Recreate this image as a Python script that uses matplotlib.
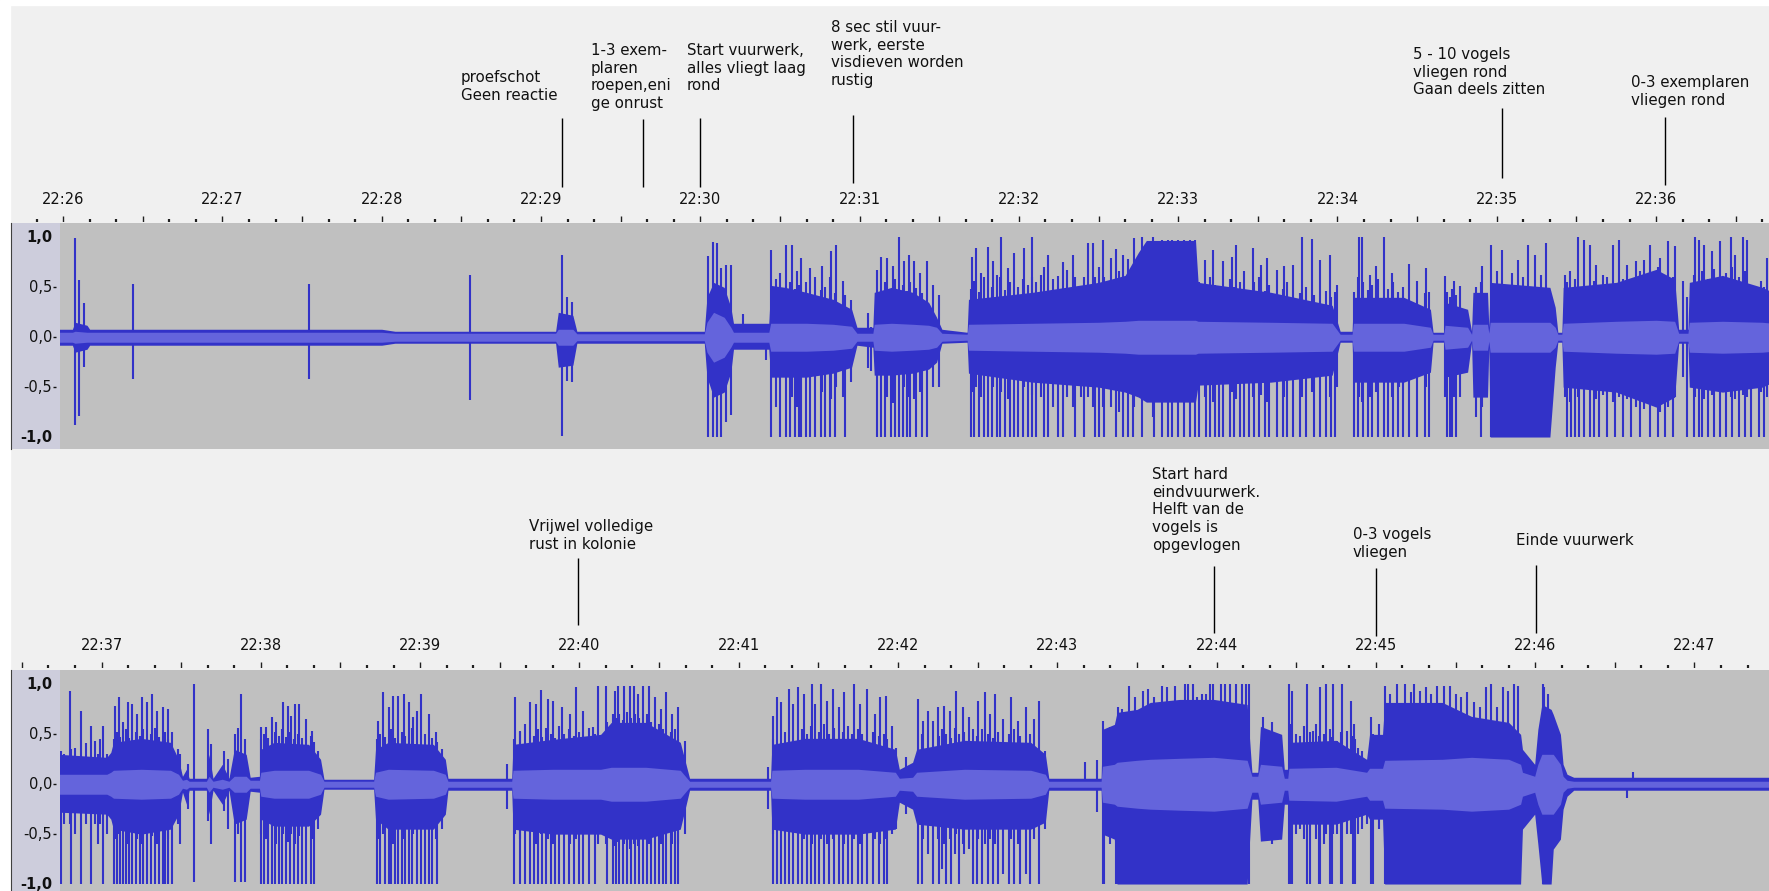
import numpy as np
import matplotlib.pyplot as plt
from matplotlib.patches import Rectangle

W, H = 1769, 891
plt.rcParams['font.family'] = ['DejaVu Sans']

BLUE = '#3232c8'
RMS_BLUE = '#6464dc'
WAVE_BG = '#c0c0c0'
PANEL_BG = '#f0f0f0'
STRIP_BG = '#cdcddc'
INK = '#111111'

# ---------------- data (time in seconds after 22:26:00) ----------------
top_minutes = ['22:26', '22:27', '22:28', '22:29', '22:30', '22:31',
               '22:32', '22:33', '22:34', '22:35', '22:36']
bottom_minutes = ['22:37', '22:38', '22:39', '22:40', '22:41', '22:42',
                  '22:43', '22:44', '22:45', '22:46', '22:47']

# envelope: (t, solid top, solid bottom, rms half width)
top_env = [
    (-2, 0.08, -0.08, 0.05), (3.5, 0.08, -0.08, 0.05), (4.5, 0.15, -0.15, 0.06),
    (9, 0.12, -0.12, 0.05), (10, 0.08, -0.08, 0.05), (120, 0.08, -0.08, 0.05),
    (125, 0.06, -0.06, 0.04), (185.5, 0.06, -0.06, 0.04), (186.5, 0.25, -0.3, 0.08),
    (192, 0.22, -0.28, 0.08), (193.5, 0.06, -0.06, 0.035), (241.5, 0.06, -0.06, 0.035),
    (242.5, 0.4, -0.4, 0.15), (245, 0.55, -0.6, 0.25), (249, 0.5, -0.55, 0.2),
    (251.5, 0.3, -0.35, 0.1), (252.5, 0.14, -0.12, 0.05), (265.8, 0.14, -0.12, 0.05),
    (266.5, 0.52, -0.4, 0.14), (272, 0.5, -0.4, 0.14), (280, 0.45, -0.4, 0.14),
    (290, 0.38, -0.36, 0.13), (297, 0.28, -0.3, 0.11),
    (299, 0.1, -0.08, 0.04), (305, 0.1, -0.1, 0.04), (305.5, 0.45, -0.38, 0.13),
    (312, 0.5, -0.38, 0.14), (320, 0.45, -0.36, 0.13), (326, 0.35, -0.32, 0.12),
    (329, 0.2, -0.25, 0.1), (331, 0.08, -0.06, 0.04), (340.5, 0.05, -0.05, 0.03),
    (341, 0.38, -0.36, 0.13), (365, 0.45, -0.45, 0.14), (390, 0.55, -0.5, 0.15),
    (400, 0.62, -0.55, 0.16), (405, 0.85, -0.6, 0.17), (408, 0.97, -0.65, 0.17),
    (426.5, 0.97, -0.65, 0.17), (427.5, 0.55, -0.48, 0.16), (455, 0.45, -0.45, 0.15),
    (478, 0.32, -0.38, 0.14), (481, 0.06, -0.05, 0.03), (485.5, 0.06, -0.05, 0.03),
    (486, 0.4, -0.45, 0.14), (505, 0.4, -0.45, 0.14), (515, 0.28, -0.35, 0.1),
    (516, 0.05, -0.05, 0.03), (520, 0.05, -0.05, 0.03), (520.5, 0.35, -0.4, 0.12),
    (529, 0.28, -0.35, 0.1), (530.5, 0.06, -0.05, 0.03), (531, 0.45, -0.6, 0.13),
    (536.5, 0.45, -0.6, 0.13), (537, 0.1, -0.1, 0.04), (537.5, 0.55, -1.0, 0.15),
    (560, 0.5, -1.0, 0.15), (562, 0.3, -0.3, 0.1), (563, 0.05, -0.05, 0.03),
    (564.5, 0.05, -0.05, 0.03), (565, 0.5, -0.5, 0.14), (585, 0.55, -0.55, 0.16),
    (600, 0.68, -0.7, 0.17), (607, 0.58, -0.6, 0.16), (608.5, 0.08, -0.06, 0.04),
    (612, 0.08, -0.06, 0.04), (612.5, 0.55, -0.5, 0.15), (625, 0.62, -0.55, 0.16),
    (640, 0.5, -0.5, 0.15), (644, 0.45, -0.45, 0.14),
]

# single peaks: (t, top, bottom)
top_spikes = [
    (4.3, 0.99, -0.88), (6.1, 0.57, -0.79), (8.0, 0.34, -0.3),
    (26.4, 0.53, -0.42), (92.8, 0.53, -0.42), (153.2, 0.62, -0.63),
    (188.0, 0.82, -0.99), (189.8, 0.4, -0.44), (191.5, 0.35, -0.45),
    (243.0, 0.81, -1.0), (244.9, 0.95, -1.0), (246.3, 0.94, -1.0),
    (247.8, 0.69, -1.0), (249.5, 0.72, -0.85), (251.4, 0.72, -0.78),
    (256.1, 0.23, -0.1), (264.8, 0.1, -0.23),
    (266.8, 0.87, -1.0), (268.7, 0.58, -0.7), (270.1, 0.64, -1.0), (272.3, 0.92, -1.0),
    (273.7, 0.55, -1.0), (274.4, 0.92, -0.6), (275.5, 0.48, -1.0), (276.6, 0.66, -0.7),
    (277.3, 0.52, -1.0), (278.0, 0.79, -1.0), (279.8, 0.55, -1.0), (281.2, 0.69, -1.0),
    (283.1, 0.6, -1.0), (285.3, 0.47, -1.0), (286.0, 0.71, -0.55), (287.1, 0.5, -1.0),
    (288.9, 0.6, -1.0), (289.3, 0.86, -0.62), (290.7, 0.44, -1.0), (291.0, 0.92, -0.5),
    (293.9, 0.56, -0.6), (294.6, 0.42, -1.0), (296.8, 0.37, -0.45),
    (303.3, 0.24, -0.31), (304.3, 0.1, -0.34),
    (306.6, 0.67, -1.0), (308.0, 0.8, -1.0), (309.5, 0.55, -1.0), (310.5, 0.79, -0.6),
    (311.9, 0.48, -1.0), (312.6, 0.71, -0.66), (313.4, 0.58, -1.0), (314.7, 1.0, -1.0),
    (316.3, 0.52, -1.0), (316.7, 0.76, -0.5), (317.7, 0.46, -1.0), (318.7, 0.82, -0.6),
    (319.1, 0.55, -1.0), (320.6, 0.76, -0.62), (321.3, 0.49, -1.0), (322.7, 0.64, -0.55),
    (323.5, 0.44, -1.0), (325.3, 0.76, -1.0), (327.8, 0.52, -0.5), (330.0, 0.42, -0.5),
    (341.8, 0.48, -1.0), (342.2, 0.8, -0.55), (343.2, 0.56, -1.0), (343.7, 0.89, -0.5),
    (345.1, 0.45, -1.0), (345.8, 0.64, -0.6), (347.0, 0.6, -1.0), (348.4, 0.9, -1.0),
    (349.9, 0.5, -1.0), (350.1, 0.76, -0.5), (351.6, 0.62, -1.0), (353.0, 0.6, -1.0),
    (353.3, 1.0, -0.55), (354.8, 0.47, -1.0), (355.9, 0.69, -0.62), (356.6, 0.55, -1.0),
    (358.1, 0.84, -1.0), (359.5, 0.5, -1.0), (361.7, 0.58, -1.0), (362.0, 0.89, -0.5),
    (363.4, 0.52, -1.0), (364.8, 0.6, -1.0), (365.0, 1.0, -0.58), (366.5, 0.55, -1.0),
    (368.2, 0.62, -0.6), (369.6, 0.7, -1.0), (371.0, 0.82, -1.0), (372.8, 0.58, -0.7),
    (374.7, 0.61, -1.0), (376.5, 0.75, -1.0), (378.3, 0.67, -0.6), (380.4, 0.82, -0.7),
    (381.1, 0.6, -1.0), (383.3, 0.42, -0.6), (384.7, 0.6, -1.0), (385.9, 0.94, -0.6),
    (387.9, 0.94, -0.7), (388.8, 0.6, -1.0), (390.3, 0.7, -1.0), (391.7, 0.97, -0.7),
    (392.0, 0.6, -1.0), (394.8, 0.79, -0.7), (396.5, 0.88, -1.0), (397.8, 0.66, -0.75),
    (399.2, 0.82, -1.0), (401.2, 0.78, -1.0), (403.1, 0.7, -1.0), (403.5, 0.99, -0.7),
    (406.4, 1.0, -1.0), (410.4, 1.0, -0.8), (410.7, 0.9, -1.0),
    (414.0, 0.97, -1.0), (416.2, 0.97, -1.0), (417.7, 0.97, -1.0), (419.9, 0.97, -1.0),
    (422.1, 0.97, -1.0), (424.3, 0.97, -1.0), (426.2, 0.97, -1.0),
    (427.9, 0.55, -1.0), (430.1, 0.77, -0.6), (430.6, 0.48, -1.0), (432.0, 0.6, -1.0),
    (433.1, 0.87, -0.65), (433.8, 0.52, -1.0), (435.3, 0.45, -1.0), (436.7, 0.76, -1.0),
    (439.6, 0.58, -1.0), (440.4, 0.8, -0.55), (441.1, 0.5, -1.0), (441.8, 0.92, -0.62),
    (443.3, 0.55, -1.0), (444.8, 0.66, -1.0), (446.7, 0.47, -1.0), (448.0, 0.89, -0.6),
    (448.4, 0.55, -1.0), (450.6, 0.6, -1.0), (451.3, 0.72, -0.58), (452.8, 0.46, -1.0),
    (453.5, 0.79, -0.65), (454.3, 0.52, -1.0), (457.2, 0.67, -1.0), (459.4, 0.48, -1.0),
    (459.8, 0.71, -0.6), (460.9, 0.55, -1.0), (463.1, 0.72, -1.0), (466.0, 0.44, -1.0),
    (466.7, 1.0, -0.6), (468.2, 0.5, -1.0), (470.4, 0.98, -0.55), (471.1, 0.42, -1.0),
    (473.3, 0.77, -1.0), (475.5, 0.46, -1.0), (477.0, 0.82, -0.6), (477.7, 0.4, -1.0),
    (478.9, 0.45, -1.0), (479.9, 0.52, -0.5),
    (486.2, 0.45, -1.0), (487.9, 0.6, -1.0), (488.2, 1.0, -0.6), (489.4, 1.0, -0.65),
    (489.7, 0.55, -1.0), (491.6, 0.47, -1.0), (492.3, 0.62, -0.6), (493.0, 0.52, -1.0),
    (494.5, 0.71, -0.55), (495.2, 0.58, -1.0), (497.4, 1.0, -1.0), (498.9, 0.48, -1.0),
    (500.4, 0.64, -0.6), (500.8, 0.55, -1.0), (502.6, 0.45, -1.0), (503.3, 0.39, -0.5),
    (504.8, 0.5, -1.0), (507.0, 0.73, -1.0), (509.9, 0.56, -1.0), (512.8, 0.44, -1.0),
    (513.5, 0.69, -0.5), (514.3, 0.45, -1.0),
    (520.6, 0.61, -0.6), (521.3, 0.45, -1.0), (522.3, 0.4, -1.0), (523.3, 0.48, -1.0),
    (523.8, 0.56, -0.6), (524.5, 0.42, -1.0), (526.0, 0.51, -0.6),
    (532.1, 0.5, -0.8), (534.0, 0.55, -1.0), (534.5, 0.71, -0.7),
    (537.7, 0.92, -1.0), (540.0, 0.66, -1.0), (542.1, 0.87, -1.0), (545.7, 0.64, -1.0),
    (547.9, 0.77, -1.0), (549.8, 0.6, -1.0), (551.6, 0.92, -1.0), (554.5, 0.82, -1.0),
    (556.6, 0.62, -1.0), (558.5, 0.94, -1.0),
    (565.5, 0.62, -0.6), (566.6, 0.55, -1.0), (567.7, 0.66, -0.65), (568.1, 0.48, -1.0),
    (569.6, 0.58, -1.0), (570.6, 1.0, -0.6), (571.0, 0.5, -1.0), (572.8, 0.97, -1.0),
    (575.0, 0.92, -1.0), (576.5, 0.56, -1.0), (577.2, 0.72, -0.62), (578.6, 0.47, -1.0),
    (580.1, 0.62, -0.58), (581.6, 0.6, -1.0), (583.8, 0.92, -0.65), (584.5, 0.52, -1.0),
    (586.0, 0.97, -0.6), (587.4, 0.58, -1.0), (588.9, 0.72, -0.62), (590.4, 0.5, -1.0),
    (592.5, 0.76, -0.7), (594.0, 0.66, -1.0), (595.5, 0.77, -0.72), (597.7, 0.92, -1.0),
    (600.6, 0.7, -1.0), (601.3, 0.79, -0.75), (603.5, 0.62, -1.0), (604.3, 0.96, -0.7),
    (606.2, 0.6, -1.0), (607.2, 0.91, -0.6),
    (610.0, 0.56, -0.4), (611.5, 0.4, -1.0),
    (614.1, 0.62, -1.0), (614.5, 1.0, -0.6), (616.0, 0.97, -1.0), (617.4, 0.66, -1.0),
    (618.2, 0.92, -0.62), (619.6, 0.58, -1.0), (621.1, 0.86, -0.58), (621.8, 0.68, -1.0),
    (624.0, 0.96, -1.0), (626.2, 0.64, -1.0), (628.1, 1.0, -0.6), (628.4, 0.7, -1.0),
    (629.9, 0.82, -0.62), (631.3, 0.6, -1.0), (632.8, 1.0, -0.58), (633.5, 0.66, -1.0),
    (634.3, 0.97, -0.6), (635.7, 0.52, -1.0), (636.4, 0.36, -0.5), (638.6, 0.48, -1.0),
    (639.4, 0.56, -0.55), (640.8, 0.5, -1.0), (641.9, 0.79, -0.6),
]

bottom_env = [
    (644, 0.3, -0.28, 0.1), (662, 0.27, -0.3, 0.1), (663.5, 0.32, -0.35, 0.12),
    (664.5, 0.42, -0.45, 0.14), (675, 0.46, -0.5, 0.15), (686, 0.42, -0.45, 0.14),
    (689, 0.25, -0.3, 0.1), (690.5, 0.08, -0.08, 0.04), (692, 0.15, -0.2, 0.05),
    (693, 0.06, -0.06, 0.03), (699.5, 0.06, -0.06, 0.03), (700.5, 0.3, -0.3, 0.08),
    (702, 0.06, -0.06, 0.03), (705.5, 0.2, -0.2, 0.05), (708, 0.06, -0.06, 0.03),
    (710, 0.35, -0.4, 0.08), (714.5, 0.3, -0.35, 0.08), (716, 0.07, -0.07, 0.04),
    (719.5, 0.08, -0.08, 0.04), (720, 0.35, -0.35, 0.12), (725, 0.42, -0.42, 0.14),
    (738, 0.4, -0.42, 0.14), (742.5, 0.25, -0.3, 0.1), (743.8, 0.05, -0.05, 0.03),
    (762.5, 0.05, -0.05, 0.03), (763.2, 0.35, -0.35, 0.12), (768, 0.42, -0.45, 0.15),
    (785, 0.4, -0.45, 0.14), (789.5, 0.25, -0.3, 0.1), (790.5, 0.06, -0.06, 0.03),
    (814.5, 0.06, -0.06, 0.03), (815, 0.4, -0.45, 0.14), (830, 0.45, -0.5, 0.15),
    (848, 0.5, -0.5, 0.15), (852, 0.62, -0.55, 0.17), (865, 0.62, -0.55, 0.17),
    (878, 0.42, -0.45, 0.14), (881.5, 0.06, -0.06, 0.03), (912, 0.06, -0.06, 0.03),
    (912.5, 0.4, -0.45, 0.14), (925, 0.46, -0.5, 0.15), (945, 0.46, -0.5, 0.15),
    (959, 0.35, -0.45, 0.12), (960.5, 0.15, -0.18, 0.06), (965.5, 0.22, -0.25, 0.07),
    (967, 0.35, -0.4, 0.12), (985, 0.44, -0.45, 0.15), (1010, 0.42, -0.45, 0.14),
    (1015.5, 0.3, -0.38, 0.1), (1016.8, 0.06, -0.06, 0.03), (1036.5, 0.06, -0.06, 0.03),
    (1037, 0.55, -0.5, 0.18), (1041.5, 0.6, -0.55, 0.2), (1042.5, 0.72, -1.0, 0.22),
    (1050, 0.75, -1.0, 0.24), (1055, 0.82, -1.0, 0.25), (1066, 0.85, -1.0, 0.26),
    (1079, 0.85, -1.0, 0.27), (1091.5, 0.8, -1.0, 0.24), (1093.3, 0.12, -0.15, 0.08),
    (1095.5, 0.12, -0.15, 0.08), (1096.5, 0.58, -0.57, 0.2), (1104.5, 0.5, -0.55, 0.18),
    (1105.5, 0.15, -0.2, 0.06), (1106.8, 0.15, -0.2, 0.06), (1107.2, 0.42, -0.4, 0.16),
    (1125, 0.44, -0.4, 0.17), (1136.5, 0.25, -0.3, 0.12), (1137.6, 0.5, -0.35, 0.16),
    (1142.5, 0.5, -0.35, 0.16), (1143.3, 0.82, -1.0, 0.24), (1165, 0.82, -1.0, 0.25),
    (1176, 0.68, -1.0, 0.27), (1190, 0.62, -1.0, 0.25), (1194.5, 0.5, -1.0, 0.2),
    (1195.2, 0.35, -0.45, 0.12), (1199.8, 0.2, -0.3, 0.08), (1201, 0.55, -0.6, 0.2),
    (1202.5, 0.8, -1.0, 0.3), (1206, 0.75, -1.0, 0.3), (1206.8, 0.7, -0.65, 0.3),
    (1209.5, 0.5, -0.55, 0.2), (1210.5, 0.2, -0.25, 0.08), (1212, 0.1, -0.12, 0.04),
    (1214.5, 0.07, -0.06, 0.03), (1290, 0.07, -0.06, 0.03),
]

bottom_spikes = [
    (644.9, 0.33, -1.0), (646.0, 0.3, -0.4), (648.2, 0.93, -0.4), (648.5, 0.35, -1.0),
    (649.9, 0.36, -0.5), (652.3, 0.73, -1.0), (654.2, 0.41, -0.4), (656.1, 0.58, -1.0),
    (657.5, 0.43, -0.4), (658.5, 0.3, -0.6), (659.3, 0.45, -0.4), (660.4, 0.58, -1.0),
    (662.1, 0.3, -0.5),
    (664.7, 0.45, -1.0), (665.0, 0.78, -0.55), (665.7, 0.52, -1.0), (666.5, 0.87, -0.5),
    (666.8, 0.47, -1.0), (668.2, 0.62, -1.0), (669.4, 0.55, -1.0), (670.1, 0.82, -0.6),
    (670.5, 0.46, -1.0), (671.5, 0.8, -1.0), (673.0, 0.52, -1.0), (673.4, 0.7, -0.55),
    (674.4, 0.48, -1.0), (675.4, 0.87, -0.6), (675.8, 0.55, -1.0), (677.3, 0.82, -1.0),
    (678.7, 0.5, -1.0), (679.2, 0.9, -0.52), (680.2, 0.56, -1.0), (680.9, 0.73, -0.6),
    (681.6, 0.47, -1.0), (683.0, 0.77, -1.0), (684.0, 0.52, -1.0), (684.9, 0.75, -0.55),
    (685.2, 0.45, -1.0), (686.6, 0.52, -1.0), (688.8, 0.35, -0.4), (689.5, 0.3, -0.6),
    (692.4, 0.2, -0.25), (695.0, 1.0, -0.98), (700.3, 0.55, -0.37), (701.3, 0.4, -0.6),
    (706.1, 0.33, -0.27), (707.5, 0.25, -0.45), (710.4, 0.5, -0.98), (711.4, 0.56, -0.5),
    (712.6, 0.9, -0.98), (714.0, 0.45, -0.98),
    (720.1, 0.45, -1.0), (720.2, 0.57, -0.5), (721.2, 0.5, -1.0), (721.9, 0.57, -0.55),
    (722.7, 0.46, -1.0), (724.1, 0.67, -1.0), (725.3, 0.52, -1.0), (725.8, 0.62, -0.6),
    (726.7, 0.48, -1.0), (728.1, 0.55, -1.0), (728.4, 0.82, -0.5), (729.6, 0.47, -1.0),
    (730.2, 0.78, -0.58), (731.0, 0.52, -1.0), (731.3, 0.68, -0.5), (732.5, 0.45, -1.0),
    (732.8, 0.8, -0.6), (733.9, 0.5, -1.0), (734.5, 0.8, -0.52), (735.6, 0.46, -1.0),
    (737.1, 0.65, -1.0), (738.8, 0.48, -1.0), (739.2, 0.53, -0.55), (740.2, 0.42, -1.0),
    (741.4, 0.33, -0.45),
    (763.7, 0.45, -1.0), (764.2, 0.63, -0.55), (764.9, 0.5, -1.0), (765.9, 0.92, -0.5),
    (766.6, 0.47, -1.0), (768.1, 0.77, -1.0), (769.2, 0.55, -1.0), (769.9, 0.88, -0.6),
    (770.5, 0.46, -1.0), (771.7, 0.88, -1.0), (773.1, 0.52, -1.0), (773.8, 0.9, -0.55),
    (774.5, 0.48, -1.0), (775.7, 0.82, -1.0), (777.1, 0.56, -1.0), (777.4, 0.67, -0.5),
    (778.9, 0.73, -1.0), (780.3, 0.9, -1.0), (781.7, 0.5, -1.0), (783.2, 0.7, -1.0),
    (784.6, 0.46, -1.0), (786.1, 0.52, -0.55), (786.3, 0.42, -1.0), (788.2, 0.35, -0.45),
    (812.7, 0.2, -0.25),
    (815.2, 0.45, -1.0), (815.6, 0.87, -0.5), (817.5, 0.52, -1.0), (817.8, 0.53, -0.55),
    (819.6, 0.6, -1.0), (821.4, 0.82, -1.0), (822.8, 0.48, -1.0), (823.5, 0.8, -0.6),
    (824.3, 0.55, -1.0), (825.7, 0.94, -0.5), (826.1, 0.47, -1.0), (827.6, 0.56, -1.0),
    (828.1, 0.85, -0.55), (829.3, 0.5, -1.0), (830.0, 0.83, -0.6), (830.7, 0.46, -1.0),
    (832.5, 0.58, -1.0), (833.6, 0.77, -0.5), (834.3, 0.5, -1.0), (836.2, 0.55, -1.0),
    (836.5, 0.7, -0.6), (837.9, 0.48, -1.0), (838.6, 0.97, -0.55), (839.7, 0.52, -1.0),
    (841.5, 0.73, -1.0), (843.7, 0.56, -1.0), (845.1, 0.57, -0.5), (845.9, 0.5, -1.0),
    (846.9, 0.98, -0.6),
    (849.9, 0.98, -0.6), (850.4, 0.62, -1.0), (852.5, 0.7, -1.0), (853.3, 0.93, -0.62),
    (853.7, 0.66, -1.0), (854.7, 0.98, -0.58), (855.1, 0.7, -1.0), (856.6, 0.64, -1.0),
    (856.9, 0.98, -0.6), (858.0, 0.72, -1.0), (859.0, 0.98, -0.65), (859.5, 0.66, -1.0),
    (860.5, 0.98, -0.6), (860.9, 0.7, -1.0), (861.9, 0.9, -0.62), (862.3, 0.66, -1.0),
    (864.1, 0.98, -1.0), (865.5, 0.7, -1.0), (866.2, 0.98, -0.6), (866.9, 0.62, -1.0),
    (868.4, 0.87, -1.0), (869.8, 0.6, -1.0), (870.6, 0.75, -0.6), (871.3, 0.55, -1.0),
    (872.7, 0.92, -1.0), (874.5, 0.52, -1.0), (874.9, 0.7, -0.6), (875.9, 0.55, -1.0),
    (877.0, 0.77, -0.6), (877.3, 0.45, -1.0), (879.9, 0.43, -0.5),
    (910.9, 0.17, -0.25),
    (912.8, 0.45, -1.0), (913.1, 0.68, -0.5), (914.5, 0.87, -1.0), (915.9, 0.82, -1.0),
    (917.4, 0.52, -1.0), (918.8, 0.95, -1.0), (920.3, 0.8, -1.0), (922.4, 0.97, -1.0),
    (923.9, 0.55, -1.0), (924.6, 0.9, -0.55), (925.7, 0.5, -1.0), (927.2, 0.58, -1.0),
    (927.5, 1.0, -0.6), (928.9, 0.8, -1.0), (930.4, 0.52, -1.0), (931.1, 1.0, -0.55),
    (932.1, 0.6, -1.0), (933.2, 0.83, -0.6), (934.0, 0.5, -1.0), (935.4, 0.95, -0.55),
    (935.8, 0.56, -1.0), (937.6, 0.77, -1.0), (939.3, 0.52, -1.0), (939.7, 0.92, -0.6),
    (941.2, 0.58, -1.0), (942.6, 0.5, -1.0), (943.3, 1.0, -0.55), (944.8, 0.55, -1.0),
    (945.5, 0.8, -0.6), (946.5, 0.5, -1.0), (948.4, 0.95, -1.0), (950.5, 0.52, -1.0),
    (951.3, 0.7, -0.55), (952.7, 0.48, -1.0), (953.4, 0.87, -0.6), (954.6, 0.5, -1.0),
    (955.6, 0.88, -0.55), (956.0, 0.45, -1.0), (957.7, 0.58, -0.5), (959.2, 0.36, -0.45),
    (963.0, 0.27, -0.3),
    (967.5, 0.85, -1.0), (969.0, 0.5, -1.0), (969.3, 0.63, -0.55), (971.4, 0.73, -0.7),
    (973.3, 0.63, -1.0), (975.0, 0.77, -0.55), (975.3, 0.48, -1.0), (976.5, 0.55, -0.85),
    (977.2, 0.78, -0.6), (978.2, 0.5, -1.0), (979.4, 0.73, -0.55), (980.1, 0.46, -1.0),
    (981.5, 0.56, -0.7), (981.9, 0.93, -0.5), (983.0, 0.5, -1.0), (984.4, 0.77, -0.6),
    (984.8, 0.52, -0.7), (986.6, 0.67, -0.65), (988.2, 0.55, -1.0), (989.7, 0.48, -1.0),
    (990.2, 0.83, -0.55), (991.6, 0.55, -1.0), (992.6, 0.92, -0.6), (993.8, 0.5, -1.0),
    (994.5, 0.7, -0.55), (995.9, 0.46, -1.0), (996.6, 0.9, -0.6), (997.8, 0.52, -1.0),
    (999.5, 0.65, -0.9), (1001.7, 0.5, -1.0), (1002.4, 0.87, -0.55), (1003.8, 0.55, -1.0),
    (1005.3, 0.63, -0.6), (1006.0, 0.48, -1.0), (1008.2, 0.77, -0.9), (1009.6, 0.5, -1.0),
    (1011.1, 0.65, -0.55), (1013.2, 0.83, -1.0), (1015.4, 0.33, -0.45),
    (1030.5, 0.22, -0.06), (1034.8, 0.24, -0.28),
    (1037.3, 0.63, -1.0), (1037.7, 0.46, -1.0), (1039.9, 0.57, -0.6), (1042.0, 0.5, -1.0),
    (1042.7, 0.77, -1.0), (1044.2, 0.75, -1.0), (1047.1, 0.98, -1.0), (1049.2, 0.87, -1.0),
    (1052.1, 0.93, -1.0), (1054.3, 0.95, -1.0), (1056.4, 0.87, -1.0), (1059.3, 0.98, -1.0),
    (1061.5, 0.97, -1.0), (1064.4, 0.98, -1.0), (1067.2, 0.8, -1.0), (1068.2, 1.0, -1.0),
    (1069.4, 1.0, -1.0), (1071.0, 1.0, -1.0), (1072.5, 0.87, -1.0), (1074.6, 0.9, -1.0),
    (1076.0, 0.9, -1.0), (1077.4, 1.0, -1.0), (1078.8, 1.0, -1.0), (1081.7, 1.0, -1.0),
    (1083.1, 1.0, -1.0), (1085.2, 1.0, -1.0), (1087.3, 1.0, -1.0), (1089.4, 1.0, -1.0),
    (1090.9, 1.0, -1.0), (1092.3, 1.0, -1.0),
    (1097.5, 0.67, -0.57), (1101.0, 0.62, -0.6),
    (1107.1, 1.0, -1.0), (1107.8, 0.6, -1.0), (1108.5, 0.93, -1.0), (1110.0, 0.5, -0.5),
    (1111.4, 0.48, -0.45), (1112.8, 0.58, -0.55), (1114.2, 1.0, -1.0), (1115.0, 0.52, -1.0),
    (1116.3, 0.53, -0.4), (1117.5, 0.6, -0.55), (1118.4, 0.48, -1.0), (1119.1, 0.97, -1.0),
    (1120.6, 0.5, -0.6), (1121.3, 1.0, -0.5), (1122.7, 0.55, -1.0), (1123.5, 0.47, -1.0),
    (1123.8, 1.0, -0.5), (1125.5, 0.43, -0.5), (1126.9, 0.52, -1.0), (1127.2, 1.0, -1.0),
    (1129.0, 0.53, -0.5), (1130.5, 0.83, -0.5), (1131.2, 0.48, -1.0), (1131.9, 0.6, -1.0),
    (1132.3, 0.45, -1.0), (1133.3, 0.36, -0.5), (1134.7, 0.33, -0.45), (1136.5, 0.23, -0.4),
    (1138.1, 0.67, -1.0), (1138.9, 0.5, -1.0), (1141.0, 0.6, -0.45),
    (1143.6, 0.98, -1.0), (1145.3, 0.9, -1.0), (1148.1, 1.0, -1.0), (1151.0, 1.0, -1.0),
    (1153.1, 0.92, -1.0), (1154.5, 1.0, -1.0), (1156.6, 0.93, -1.0), (1158.7, 0.97, -1.0),
    (1160.9, 0.9, -1.0), (1163.0, 0.98, -1.0), (1165.8, 0.98, -1.0), (1167.9, 0.98, -1.0),
    (1170.1, 0.9, -1.0), (1172.2, 0.87, -1.0), (1174.3, 0.92, -1.0), (1177.1, 0.82, -1.0),
    (1179.3, 0.77, -1.0), (1181.4, 0.97, -1.0), (1183.5, 1.0, -1.0), (1185.6, 0.77, -1.0),
    (1187.7, 0.97, -1.0), (1189.9, 0.93, -1.0), (1192.0, 1.0, -1.0), (1193.4, 0.98, -1.0),
    (1202.8, 1.0, -1.0), (1203.5, 0.97, -1.0), (1205.0, 0.9, -1.0),
    (1234.4, 0.06, -0.14), (1237.0, 0.12, -0.06),
]

# annotations: (time of the marker line, text)
top_notes = [
    (188.0, 'proefschot\nGeen reactie'),
    (218.3, '1-3 exem-\nplaren\nroepen,eni\nge onrust'),
    (239.7, 'Start vuurwerk,\nalles vliegt laag\nrond'),
    (297.6, '8 sec stil vuur-\nwerk, eerste\nvisdieven worden\nrustig'),
    (542.1, '5 - 10 vogels\nvliegen rond\nGaan deels zitten'),
    (603.2, '0-3 exemplaren\nvliegen rond'),
]
bottom_notes = [
    (839.4, 'Vrijwel volledige\nrust in kolonie'),
    (1079.0, 'Start hard\neindvuurwerk.\nHelft van de\nvogels is\nopgevlogen'),
    (1139.9, '0-3 vogels\nvliegen'),
    (1200.3, 'Einde vuurwerk'),
]

# layout in pixels: text left, text top, line top, line bottom
top_note_layout = [(461, 70, 118, 187), (591, 43, 119, 187), (687, 43, 118, 187),
                   (831, 20, 115, 183), (1413, 47, 108, 178), (1631, 75, 117, 185)]
bottom_note_layout = [(529, 519, 558, 625), (1152, 467, 566, 633),
                      (1353, 527, 568, 636), (1516, 533, 565, 633)]

PX_PER_S = 2.655
WAVE_X0 = 59.5
STRIP_X0 = 11
YLIM = (-1.12, 1.145)

fig = plt.figure(figsize=(W / 100, H / 100), dpi=100, facecolor=PANEL_BG)
fig.patches.append(Rectangle((0, 0), 10 / W, 1, transform=fig.transFigure,
                             color='white', zorder=-1))
fig.patches.append(Rectangle((0, 1 - 5 / H), 1, 5 / H, transform=fig.transFigure,
                             color='white', zorder=-1))


def px_axes(x0, y0, x1, y1):
    return fig.add_axes([x0 / W, 1 - y1 / H, (x1 - x0) / W, (y1 - y0) / H])


def draw_panel(minutes, t_first, px_first, wave_y, ruler_y, notes, layout, env, spikes):
    t_left = t_first + (WAVE_X0 - px_first) / PX_PER_S
    t_right = t_first + (W - px_first) / PX_PER_S
    t_ruler = t_first + (STRIP_X0 - px_first) / PX_PER_S

    # ruler + annotation lines (y in pixel rows)
    ax_r = px_axes(STRIP_X0, 0, W, ruler_y)
    ax_r.set_xlim(t_ruler, t_right)
    ax_r.set_ylim(ruler_y, 0)
    ax_r.axis('off')
    ticks = np.arange(np.ceil(t_ruler / 10) * 10, t_right, 10)
    major = ticks[np.isclose(np.mod(ticks, 30), 0)]
    minor = ticks[~np.isclose(np.mod(ticks, 30), 0)]
    ax_r.vlines(major, ruler_y - 6.5, ruler_y - 0.5, color='#202020', lw=1.0)
    ax_r.vlines(minor, ruler_y - 3, ruler_y - 0.5, color='#202020', lw=1.6)
    for i, lab in enumerate(minutes):
        ax_r.text(t_first + 60 * i, ruler_y - 22, lab, ha='center', va='center',
                  fontsize=10.5, color=INK)
    for (t, txt), (tx, ty, y0, y1) in zip(notes, layout):
        ax_r.vlines(t, y0, y1, color='black', lw=1.0)
        fig.text(tx / W, 1 - ty / H, txt, ha='left', va='top', fontsize=10.8,
                 color=INK, linespacing=1.22)

    # vertical scale strip
    ax_s = px_axes(STRIP_X0, wave_y, WAVE_X0, wave_y + 226)
    ax_s.set_facecolor(STRIP_BG)
    ax_s.set_xlim(0, WAVE_X0 - STRIP_X0)
    ax_s.set_ylim(*YLIM)
    ax_s.set_xticks([])
    ax_s.set_yticks([])
    for name, sp in ax_s.spines.items():
        sp.set_visible(name == 'left')
    ax_s.spines['left'].set_color('#404040')
    for val, lab in [(1.0, '1,0'), (0.5, '0,5'), (0.0, '0,0'), (-0.5, '-0,5'), (-1.0, '-1,0')]:
        bold = abs(val) == 1.0
        ax_s.text(41, val, lab, ha='right', va='center', fontsize=10.5,
                  fontweight='bold' if bold else 'normal', color=INK)
    ax_s.hlines([0.5, 0.0, -0.5], 42, 45, color=INK, lw=1.0)

    # waveform: solid envelope, single peaks, rms band on top
    ax = px_axes(WAVE_X0, wave_y, W, wave_y + 226)
    ax.set_facecolor(WAVE_BG)
    ax.set_xlim(t_left, t_right)
    ax.set_ylim(*YLIM)
    ax.set_xticks([])
    ax.set_yticks([])
    for sp in ax.spines.values():
        sp.set_visible(False)
    t, hi, lo, rms = map(np.array, zip(*env))
    ax.fill_between(t, lo, hi, color=BLUE, lw=0, zorder=1)
    st, sh, sl = map(np.array, zip(*spikes))
    ax.vlines(st, sl, sh, color=BLUE, lw=1.5, zorder=2)
    ax.fill_between(t, -rms, rms, color=RMS_BLUE, lw=0, zorder=3)


draw_panel(top_minutes, 0, 63.1, 223, 222, top_notes, top_note_layout, top_env, top_spikes)
draw_panel(bottom_minutes, 660, 101.5, 670, 668, bottom_notes, bottom_note_layout,
           bottom_env, bottom_spikes)

fig.savefig('out.png', dpi=100, facecolor=fig.get_facecolor())
